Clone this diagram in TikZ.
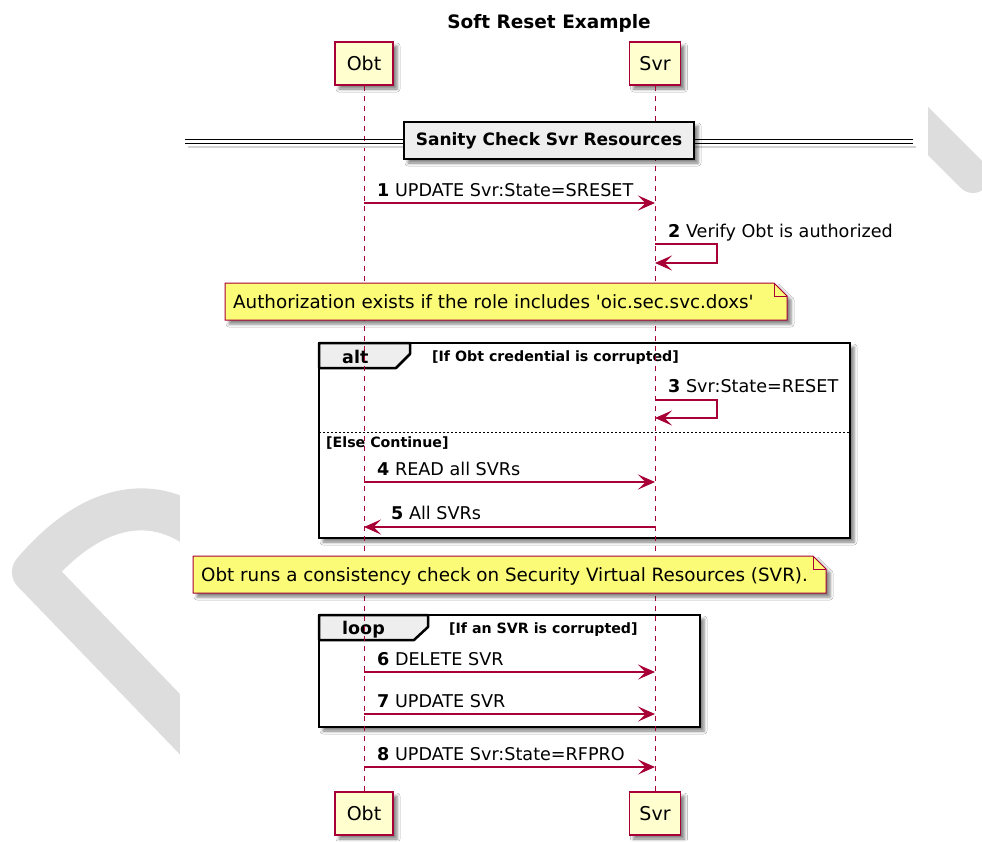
\documentclass[tikz,border=0pt]{standalone}
\usepackage{fontspec}
\setmainfont{DejaVu Sans}
\usetikzlibrary{arrows.meta,shadows.blur}
\definecolor{pred}{HTML}{A80036}
\definecolor{pfill}{HTML}{FEFECE}
\definecolor{nfill}{HTML}{FBFB77}
\definecolor{gfill}{HTML}{EEEEEE}
\definecolor{wmark}{HTML}{DDDDDD}
\newcommand{\setfs}[1]{\fontsize{#1}{#1}\selectfont}

\begin{document}
\begin{tikzpicture}[x=1pt,y=-1pt,
  boxshadow/.style={blur shadow={shadow xshift=4pt,shadow yshift=-4pt,shadow blur radius=3pt,shadow opacity=50}},
  part/.style={draw=pred,fill=pfill,line width=1.5pt,minimum height=43pt,inner sep=0pt,font=\setfs{19},boxshadow},
  life/.style={draw=pred,line width=1pt,dash pattern=on 5pt off 5pt},
  msg/.style={draw=pred,line width=1.3pt,-{Stealth[length=17pt,width=15pt,inset=7.5pt]}},
  lbl/.style={anchor=base west,inner sep=0pt,font=\setfs{17.6}},
  notetext/.style={anchor=base west,inner sep=0pt,font=\setfs{18.3}},
  cond/.style={anchor=base west,inner sep=0pt,font=\setfs{14.2}\bfseries},
  tablbl/.style={anchor=base west,inner sep=0pt,font=\setfs{17.5}\bfseries},
  fragbox/.style={draw=black,fill=white,line width=2.5pt,boxshadow},
  fragtab/.style={draw=black,fill=gfill,line width=2.5pt,line join=round},
  notebox/.style={draw=pred,fill=nfill,line width=1pt,boxshadow},
  ]
\useasboundingbox (0,0) rectangle (982,841);
\fill[white] (0,0) rectangle (982,841);

% background watermark strokes
\draw[wmark,line width=42pt,line cap=round,line join=round]
  (200,530) .. controls (150,493) and (90,505) .. (33,572) -- (200,745);
\draw[wmark,line width=34pt,line cap=round] (890,93) -- (973,176);
\fill[white] (180,0) rectangle (928,841);

% title
\node[anchor=base,inner sep=0pt,font=\setfs{18.5}\bfseries] (title) at (549,28) {Soft Reset Example};

% combined fragments
\path[fragbox] (319,343) rectangle (850,538);
\path[fragtab] (319,343) -- (410,343) -- (410,354) -- (396,368) -- (319,368) -- cycle;
\node[tablbl] (altlbl) at (342,363) {alt};
\node[cond] (altcond) at (432,361) {[If Obt credential is corrupted]};
\draw[black,line width=1pt,dash pattern=on 2pt off 2pt] (319,432) -- (850,432);
\node[cond] (elsecond) at (326,447) {[Else Continue]};

\path[fragbox] (319,615) rectangle (700,727);
\path[fragtab] (319,615) -- (428,615) -- (428,627) -- (414,640) -- (319,640) -- cycle;
\node[tablbl] (looplbl) at (342,634) {loop};
\node[cond] (loopcond) at (449,633) {[If an SVR is corrupted]};

% participants
\node[part,minimum width=58pt] (obtT) at (364,63.5) {Obt};
\node[part,minimum width=51pt] (svrT) at (655,63.5) {Svr};
\node[part,minimum width=58pt] (obtB) at (364,813.5) {Obt};
\node[part,minimum width=51pt] (svrB) at (655,813.5) {Svr};

% lifelines
\draw[life] (obtT.south) -- (obtB.north);
\draw[life] (svrT.south) -- (svrB.north);

% section divider
\draw[gray!35,line width=2pt] (188,147) -- (916,147);
\draw[black,line width=1pt] (185,139) -- (913,139);
\draw[black,line width=1pt] (185,143) -- (913,143);
\node[draw=black,fill=gfill,line width=2.2pt,minimum width=290pt,minimum height=37pt,inner sep=0pt,
      boxshadow,font=\setfs{17}\bfseries] (sect) at (549,140.5) {Sanity Check Svr Resources};

% notes
\path[notebox] (225,283) -- (774,283) -- (787,296) -- (787,320) -- (225,320) -- cycle;
\draw[pred,line width=1pt] (774,283) -- (774,296) -- (787,296);
\node[notetext] (note1) at (233,308) {Authorization exists if the role includes \textquotesingle oic.sec.svc.doxs\textquotesingle};

\path[notebox] (193,556) -- (813,556) -- (826,569) -- (826,593) -- (193,593) -- cycle;
\draw[pred,line width=1pt] (813,556) -- (813,569) -- (826,569);
\node[notetext] (note2) at (201,581) {Obt runs a consistency check on Security Virtual Resources (SVR).};

% message anchor points on the lifelines
\coordinate (a1) at (364,203); \coordinate (b1) at (655,203);
\coordinate (s2a) at (655,244); \coordinate (s2b) at (655,263);
\coordinate (s3a) at (655,400); \coordinate (s3b) at (655,418);
\coordinate (a4) at (364,482); \coordinate (b4) at (655,482);
\coordinate (a5) at (364,527); \coordinate (b5) at (655,527);
\coordinate (a6) at (364,672); \coordinate (b6) at (655,672);
\coordinate (a7) at (364,714); \coordinate (b7) at (655,714);
\coordinate (a8) at (364,767); \coordinate (b8) at (655,767);

% messages
\draw[msg] (a1) -- (b1);
\draw[msg] (s2a) -- ++(62,0) |- (s2b);
\draw[msg] (s3a) -- ++(62,0) |- (s3b);
\draw[msg] (a4) -- (b4);
\draw[msg] (b5) -- (a5);
\draw[msg] (a6) -- (b6);
\draw[msg] (a7) -- (b7);
\draw[msg] (a8) -- (b8);

% message labels
\node[lbl] (l1) at (377,196) {\textbf{1} UPDATE Svr:State=SRESET};
\node[lbl] (l2) at (668,237) {\textbf{2} Verify Obt is authorized};
\node[lbl] (l3) at (668,392) {\textbf{3} Svr:State=RESET};
\node[lbl] (l4) at (377,475) {\textbf{4} READ all SVRs};
\node[lbl] (l5) at (391,519) {\textbf{5} All SVRs};
\node[lbl] (l6) at (377,665) {\textbf{6} DELETE SVR};
\node[lbl] (l7) at (377,707) {\textbf{7} UPDATE SVR};
\node[lbl] (l8) at (377,760) {\textbf{8} UPDATE Svr:State=RFPRO};
\end{tikzpicture}
\end{document}
